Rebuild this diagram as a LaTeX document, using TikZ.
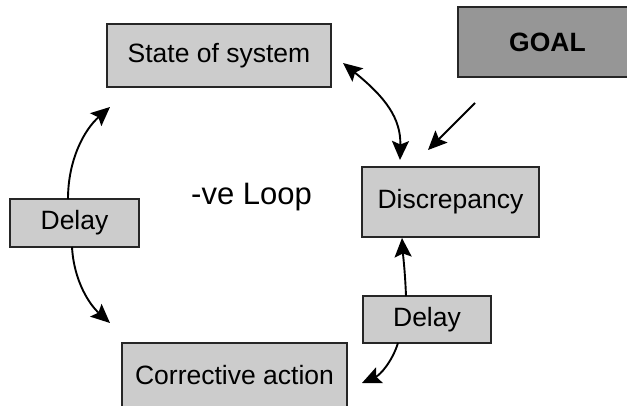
\documentclass[tikz,border=0pt]{standalone}
\usepackage{fontspec}
\setmainfont{Liberation Sans}
\usetikzlibrary{arrows.meta}
\definecolor{boxgray}{HTML}{CCCCCC}
\definecolor{goalgray}{HTML}{969696}
\begin{document}
\begin{tikzpicture}[x=1pt,y=-1pt,
  box/.style={draw=black!85, line width=1.3pt, fill=boxgray, inner sep=0pt,
    font=\fontsize{26.5}{30}\selectfont},
  tip/.style={Stealth[length=19pt,width=17pt,inset=3.5pt]},
  conn/.style={line width=1.9pt, -{Stealth[length=19pt,width=17pt,inset=3.5pt]}},
  conn2/.style={line width=1.9pt, {Stealth[length=19pt,width=17pt,inset=3.5pt]}-{Stealth[length=19pt,width=17pt,inset=3.5pt]}}]
\useasboundingbox (0,0) rectangle (627,405);
\node[box, minimum width=224pt, minimum height=63pt] (state) at (219,55.5) {State of system};
\node[box, fill=goalgray, minimum width=179pt, minimum height=70pt, font=\fontsize{26.5}{30}\selectfont\bfseries] (goal) at (547.5,42) {GOAL};
\node[box, minimum width=177pt, minimum height=70pt] (disc) at (450.5,202) {Discrepancy};
\node[box, minimum width=129pt, minimum height=48pt] (delayL) at (74.5,223) {Delay};
\node[box, minimum width=225pt, minimum height=64pt] (corr) at (234.5,375) {Corrective action};
\node[box, minimum width=128pt, minimum height=47pt] (delayR) at (427,319.5) {Delay};
\node[font=\fontsize{31}{36}\selectfont] (loop) at (251.5,197) {-ve Loop};
% named arrow end points
\coordinate (sd1) at (343,63);
\coordinate (sd2) at (400,160);
\coordinate (g1) at (475,103);
\coordinate (g2) at (428,150);
\coordinate (lu1) at (68,199);
\coordinate (lu2) at (110,107);
\coordinate (ld1) at (72,247);
\coordinate (ld2) at (110,323);
\coordinate (ru1) at (406,296);
\coordinate (ru2) at (402,238);
\coordinate (rd1) at (398,343);
\coordinate (rd2) at (362,383);
\draw[conn2] (sd1) .. controls (385,97) and (401,118) .. (sd2);
\draw[conn] (g1) -- (g2);
\draw[conn] (lu1) .. controls (68,160) and (84,130) .. (lu2);
\draw[conn] (ld1) .. controls (74,282) and (90,305) .. (ld2);
\draw[conn] (ru1) .. controls (405,270) and (403,255) .. (ru2);
\draw[conn] (rd1) .. controls (392,362) and (380,375) .. (rd2);
\end{tikzpicture}
\end{document}
